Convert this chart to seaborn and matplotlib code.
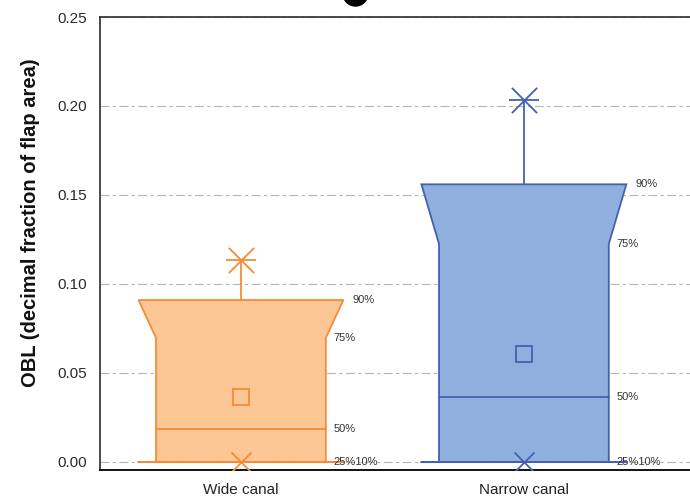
import matplotlib
matplotlib.use("Agg")
import matplotlib.pyplot as plt
import seaborn as sns
import pandas as pd
from matplotlib.patches import Polygon

# Distribution summary per canal type
groups = ["Wide canal", "Narrow canal"]
p10 = [0.0, 0.0]
p25 = [0.0, 0.0]
p50 = [0.0185, 0.0367]
p75 = [0.0697, 0.1225]
p90 = [0.0910, 0.1560]
means = [0.0365, 0.0607]
maxima = [0.1135, 0.2034]
minima = [0.0, 0.0]
yticks = [0.00, 0.05, 0.10, 0.15, 0.20, 0.25]
pct_labels = ["90%", "75%", "50%", "25%10%"]

fills = ["#FCC794", "#8FB0DE"]
edges = ["#F58B38", "#4660B0"]

sns.set_theme(style="white")
plt.rcParams["font.family"] = ["Liberation Sans", "DejaVu Sans"]

fig = plt.figure(figsize=(6.9, 4.96), dpi=100)
ax = fig.add_axes([100 / 690, 1 - 470 / 496, 600 / 690, 453 / 496])

df = pd.DataFrame({"group": groups, "pos": [0, 1], "p10": p10, "p25": p25,
                   "p50": p50, "p75": p75, "p90": p90, "mean": means,
                   "max": maxima, "min": minima})

outer = 0.362   # half-width at the 90th / 10th percentile
inner = 0.30    # half-width of the inter-quartile body

for i, row in df.iterrows():
    x = row["pos"]
    fc, ec = fills[i], edges[i]
    # funnel-shaped box: flared from 75% to 90% (and 25% to 10%)
    verts = [
        (x - outer, row["p10"]), (x - inner, row["p25"]),
        (x - inner, row["p75"]), (x - outer, row["p90"]),
        (x + outer, row["p90"]), (x + inner, row["p75"]),
        (x + inner, row["p25"]), (x + outer, row["p10"]),
    ]
    ax.add_patch(Polygon(verts, closed=True, facecolor=fc, edgecolor=ec,
                         linewidth=1.3, zorder=3))
    # 10% cap line
    ax.plot([x - outer, x + outer], [row["p10"], row["p10"]], color=ec,
            lw=1.3, zorder=4)
    # median
    ax.plot([x - inner, x + inner], [row["p50"], row["p50"]], color=ec,
            lw=1.3, zorder=4)
    # whisker to maximum
    sns.lineplot(x=[x, x], y=[row["p90"], row["max"]], color=ec, lw=1.3,
                 estimator=None, sort=False, errorbar=None, ax=ax, zorder=4)
    # mean
    ax.plot(x, row["mean"], marker="s", ms=11, mfc="none", mec=ec,
            mew=1.3, zorder=5)
    # maximum (asterisk) and minimum (cross)
    sns.scatterplot(x=[x], y=[row["max"]], marker="x", s=330, color=ec,
                    linewidth=1.3, ax=ax, zorder=5)
    sns.scatterplot(x=[x], y=[row["max"]], marker="_", s=470, color=ec,
                    linewidth=1.3, ax=ax, zorder=5)
    sns.scatterplot(x=[x], y=[row["min"]], marker="x", s=210, color=ec,
                    linewidth=1.3, ax=ax, zorder=5)

    # percentile annotations
    ax.annotate(pct_labels[0], (x + outer, row["p90"]), xytext=(6.5, 0),
                textcoords="offset points", fontsize=8, color="#333333",
                va="center", ha="left", zorder=6)
    for lab, key in zip(pct_labels[1:], ["p75", "p50", "p25"]):
        ax.annotate(lab, (x + inner, row[key]), xytext=(5.5, 0),
                    textcoords="offset points", fontsize=8, color="#333333",
                    va="center", ha="left", zorder=6)

ax.set_xlim(-0.498, 1.587 + 10 / 283)
ax.set_ylim(-0.0045, 0.25)
ax.set_xticks([0, 1])
ax.set_xticklabels(groups, fontsize=11, color="#222222")
ax.set_yticks(yticks)
ax.set_yticklabels([f"{v:.2f}" for v in yticks], fontsize=11,
                   color="#2A2A2A")
ax.tick_params(axis="y", length=0, pad=9.5)
ax.tick_params(axis="x", length=0, pad=9)
ax.set_xlabel("")
ax.set_ylabel("")

ax.yaxis.grid(True, color="#B5B5B5", lw=0.8, linestyle=(0, (8, 3, 3, 3)))
ax.xaxis.grid(False)
ax.set_axisbelow(True)

for side in ["left", "top"]:
    ax.spines[side].set_color("#3A3A3A")
    ax.spines[side].set_linewidth(1.3)
ax.spines["bottom"].set_color("#111111")
ax.spines["bottom"].set_linewidth(1.4)
ax.spines["right"].set_visible(False)

fig.text(31 / 690, 1 - 223 / 496, "OBL (decimal fraction of flap area)",
         rotation=90, fontsize=14.5, fontweight="bold", ha="center",
         va="center", color="#111111")

# partly visible heading mark above the frame
fig.add_artist(plt.Line2D([355 / 690], [1 + 7.5 / 496], marker="o", ms=18,
                          color="black", transform=fig.transFigure))

fig.savefig("out.png", dpi=100)
